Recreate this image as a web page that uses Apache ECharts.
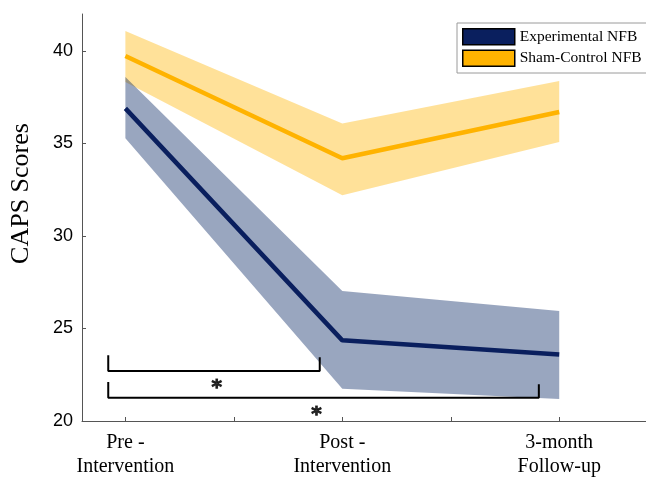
<!DOCTYPE html>
<html><head><meta charset="utf-8">
<script src="https://cdn.jsdelivr.net/npm/echarts@6/dist/echarts.min.js"></script>
<style>html,body{margin:0;padding:0;background:#fff}#c{width:646px;height:484px}</style>
</head><body><div id="c"></div>
<script>
const timePoints = [1, 2, 3];
const tickLabels = ['Pre -\nIntervention', 'Post -\nIntervention', '3-month\nFollow-up'];
const expMean  = [36.9, 24.36, 23.6];
const expUpper = [38.6, 27.03, 25.95];
const expLower = [35.28, 21.75, 21.19];
const shamMean  = [39.73, 34.2, 36.7];
const shamUpper = [41.08, 36.08, 38.38];
const shamLower = [38.32, 32.2, 35.08];
const bracket1 = [[0.921, 23.55], [0.921, 22.7], [1.896, 22.7], [1.896, 23.44]];
const bracket2 = [[0.921, 22.11], [0.921, 21.26], [2.906, 21.26], [2.906, 21.98]];
const stars = [[1.421, 22.04], [1.881, 20.58]];
const yTicks = [20, 25, 30, 35, 40];

const NAVY = '#0a1f5e';
const NAVY_BAND = '#00205f';
const ORANGE = '#ffb300';
const pts = arr => timePoints.map((x, i) => [x, arr[i]]);

function band(id, lower, upper, color) {
  return {
    name: id + ' band', type: 'custom', silent: true, z: 1,
    data: timePoints.map((x, i) => [x, lower[i], upper[i]]),
    encode: { x: 0, y: [1, 2] },
    renderItem: (params, api) => {
      if (params.dataIndex !== 0) return null;
      const top = timePoints.map((x, i) => api.coord([x, upper[i]]));
      const bot = timePoints.map((x, i) => api.coord([x, lower[i]])).reverse();
      return { type: 'polygon', shape: { points: top.concat(bot) },
        style: { fill: color, opacity: 0.4 } };
    }
  };
}

const serif = 'Liberation Serif, Times New Roman, serif';
const sans = 'Liberation Sans, Arial, sans-serif';

const chart = echarts.init(document.getElementById('c'), null, { renderer: 'canvas' });
chart.setOption({
  animation: false,
  backgroundColor: '#fff',
  grid: { left: 81, right: 0, top: 14, bottom: 63 },
  legend: {
    orient: 'vertical', left: 457, top: 23,
    padding: [5, 60, 6, 5], itemGap: 4,
    itemWidth: 52, itemHeight: 16, icon: 'rect',
    backgroundColor: '#fff', borderColor: '#9a9a9a', borderWidth: 1,
    itemStyle: { borderColor: '#000', borderWidth: 1.5 },
    textStyle: { fontFamily: serif, fontSize: 15.5, color: '#000' },
    data: ['Experimental NFB', 'Sham-Control NFB']
  },
  xAxis: {
    type: 'value', min: 0.8, max: 3.4,
    axisLine: { lineStyle: { color: '#555', width: 1 } },
    axisTick: { inside: true, length: 4, customValues: [1, 1.5, 2, 2.5, 3], lineStyle: { color: '#555' } },
    axisLabel: {
      customValues: timePoints, margin: 10,
      formatter: v => tickLabels[timePoints.indexOf(Math.round(v))] || '',
      fontFamily: serif, fontSize: 20, lineHeight: 24, color: '#000'
    },
    splitLine: { show: false }
  },
  yAxis: {
    type: 'value', min: 20, max: 42,
    name: 'CAPS Scores', nameLocation: 'middle', nameGap: 48,
    nameTextStyle: { fontFamily: serif, fontSize: 26, color: '#000', padding: [0, 0, 0, 48] },
    axisLine: { show: true, lineStyle: { color: '#555', width: 1 } },
    axisTick: { show: true, inside: true, length: 4, customValues: yTicks, lineStyle: { color: '#555' } },
    axisLabel: { customValues: yTicks, margin: 9, fontFamily: sans, fontSize: 18, color: '#000' },
    splitLine: { show: false }
  },
  series: [
    band('sham', shamLower, shamUpper, ORANGE),
    band('exp', expLower, expUpper, NAVY_BAND),
    { name: 'Sham-Control NFB', type: 'line', data: pts(shamMean), symbol: 'none',
      lineStyle: { color: ORANGE, width: 4.5 }, itemStyle: { color: ORANGE }, z: 3 },
    { name: 'Experimental NFB', type: 'line', data: pts(expMean), symbol: 'none',
      lineStyle: { color: NAVY, width: 4.5 }, itemStyle: { color: NAVY }, z: 3 },
    { name: 'bracket1', type: 'line', data: bracket1, symbol: 'none',
      lineStyle: { color: '#000', width: 2 }, z: 4 },
    { name: 'bracket2', type: 'line', data: bracket2, symbol: 'none',
      lineStyle: { color: '#000', width: 2 }, z: 4 },
    { name: 'stars', type: 'scatter', data: stars, symbolSize: 1,
      itemStyle: { color: 'rgba(0,0,0,0)' }, z: 5,
      label: { show: true, position: 'inside', formatter: '*', offset: [0, 5],
        fontFamily: 'DejaVu Sans, sans-serif', fontSize: 20, fontWeight: 'bold', color: '#000',
        textBorderColor: '#000', textBorderWidth: 1 } }
  ]
});
</script></body></html>
